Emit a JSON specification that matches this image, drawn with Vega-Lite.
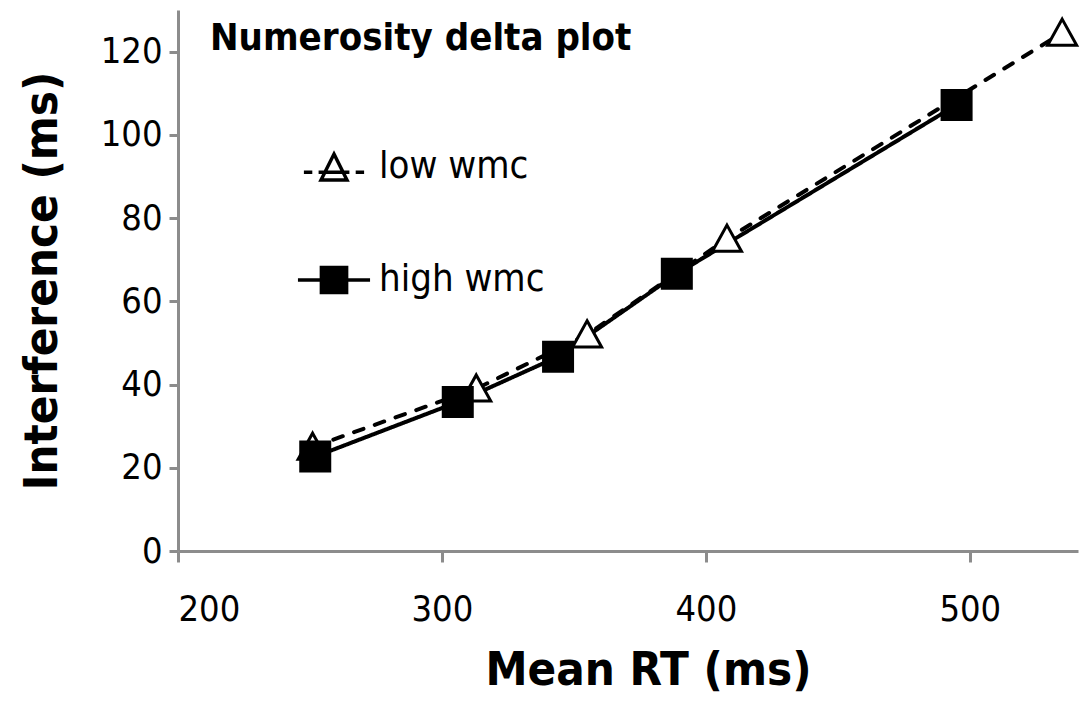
{
  "$schema": "https://vega.github.io/schema/vega-lite/v6.json",
  "width": 900,
  "height": 541,
  "autosize": {"type": "none"},
  "padding": {"left": 178, "top": 10, "right": 4, "bottom": 151},
  "background": "white",
  "config": {
    "font": "Liberation Sans Narrow, DejaVu Sans Condensed, sans-serif",
    "view": {"stroke": null},
    "axis": {
      "grid": false,
      "domainColor": "#8c8c8c",
      "domainWidth": 3,
      "tickColor": "#8c8c8c",
      "tickWidth": 3,
      "labelColor": "black",
      "titleColor": "black",
      "labelFontSize": 36,
      "titleFontSize": 47,
      "titleFontWeight": "bold"
    }
  },
  "title": {
    "text": "Numerosity delta plot",
    "anchor": "start",
    "orient": "top",
    "frame": "group",
    "offset": -48,
    "dx": 32,
    "fontSize": 38,
    "fontWeight": "bold",
    "color": "black"
  },
  "data": {
    "values": [
      {"wmc": "low wmc", "rt": 251, "interference": 25},
      {"wmc": "low wmc", "rt": 313, "interference": 39},
      {"wmc": "low wmc", "rt": 355, "interference": 52},
      {"wmc": "low wmc", "rt": 408, "interference": 75},
      {"wmc": "low wmc", "rt": 535, "interference": 124.5},
      {"wmc": "high wmc", "rt": 252, "interference": 22.7},
      {"wmc": "high wmc", "rt": 306, "interference": 35.8},
      {"wmc": "high wmc", "rt": 344, "interference": 46.7},
      {"wmc": "high wmc", "rt": 389, "interference": 66.6},
      {"wmc": "high wmc", "rt": 495, "interference": 107.2}
    ]
  },
  "encoding": {
    "x": {
      "field": "rt",
      "type": "quantitative",
      "title": "Mean RT (ms)",
      "scale": {"domain": [200, 541], "nice": false, "zero": false},
      "axis": {"values": [200, 300, 400, 500], "tickSize": 11, "labelPadding": 30, "titlePadding": 20, "titleX": 470}
    },
    "y": {
      "field": "interference",
      "type": "quantitative",
      "title": "Interference (ms)",
      "scale": {"domain": [0, 130], "nice": false},
      "axis": {"values": [0, 20, 40, 60, 80, 100, 120], "tickSize": 9, "labelPadding": 7, "titlePadding": 34}
    }
  },
  "layer": [
    {
      "mark": {"type": "line", "strokeWidth": 4, "color": "black", "strokeCap": "round"},
      "encoding": {
        "strokeDash": {
          "field": "wmc",
          "type": "nominal",
          "scale": {"domain": ["low wmc", "high wmc"], "range": [[10, 12], [1, 0]]},
          "legend": null
        }
      }
    },
    {
      "mark": {"type": "point", "filled": true, "stroke": "black", "strokeWidth": 3, "opacity": 1, "size": 841},
      "encoding": {
        "shape": {
          "field": "wmc",
          "type": "nominal",
          "scale": {
            "domain": ["low wmc", "high wmc"],
            "range": ["M0,-0.95L1,0.85L-1,0.85Z", "M-1,-1H1V1H-1Z"]
          },
          "legend": null
        },
        "fill": {
          "field": "wmc",
          "type": "nominal",
          "scale": {"domain": ["low wmc", "high wmc"], "range": ["white", "black"]},
          "legend": null
        }
      }
    },
    {
      "mark": {"type": "point", "filled": false, "color": "black", "strokeWidth": 3.5, "opacity": 0, "size": 10},
      "encoding": {
        "shape": {
          "field": "wmc",
          "type": "nominal",
          "scale": {
            "domain": ["low wmc", "high wmc"],
            "range": [
              "M-0.86,0.15H-0.62M-0.44,0.15H0.44M0.62,0.15H0.86M0,-0.37L0.37,0.37L-0.37,0.37Z",
              "M-1.03,0H1.03M-0.36,-0.36H0.36V0.36H-0.36ZM-0.36,-0.27H0.36M-0.36,-0.18H0.36M-0.36,-0.09H0.36M-0.36,0.09H0.36M-0.36,0.18H0.36M-0.36,0.27H0.36"
            ]
          },
          "legend": {
            "title": null,
            "orient": "none",
            "legendX": 119,
            "legendY": 120,
            "symbolSize": 4900,
            "symbolStrokeWidth": 3.5,
            "symbolStrokeColor": "black",
            "symbolOpacity": 1,
            "labelFontSize": 38,
            "labelOffset": 8,
            "labelLimit": 400,
            "labelColor": "black",
            "rowPadding": 56
          }
        }
      }
    }
  ],
  "resolve": {"scale": {"shape": "independent"}, "legend": {"shape": "independent"}}
}
